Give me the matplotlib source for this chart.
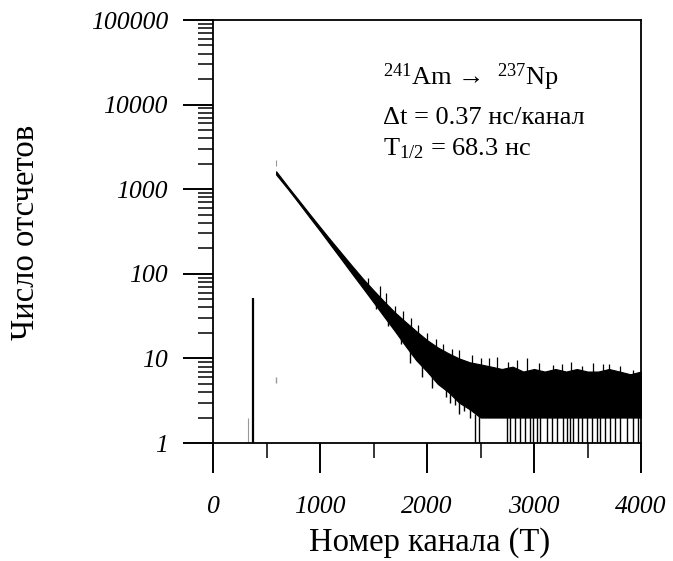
import matplotlib
matplotlib.use("Agg")
import matplotlib.pyplot as plt
import numpy as np

plt.rcParams["font.family"] = ["Liberation Serif", "DejaVu Serif"]
plt.rcParams["mathtext.fontset"] = "custom"
plt.rcParams["mathtext.rm"] = "Liberation Serif"
plt.rcParams["mathtext.it"] = "Liberation Serif:italic"

# ── данные ────────────────────────────────────────────────
# огибающая спектра (канал, верх / низ сплошной полосы)
chan = [590, 700, 800, 900, 1000, 1100, 1200, 1300, 1400, 1500, 1600,
        1700, 1800, 1900, 2000, 2100, 2200, 2300, 2400, 2500, 2600, 2700,
        2800, 2900, 3000, 3100, 3200, 3300, 3400, 3500, 3600, 3700, 3800,
        3900, 4000]
upper = [1630, 1075, 745, 515, 358, 250, 176, 124, 88, 64, 47,
         35, 27, 21, 16.5, 13.5, 11.5, 10, 9, 8.5, 8, 7.5,
         8, 7, 7.5, 7, 7.5, 7, 7.5, 7, 7, 7.5, 7,
         6.5, 7]
lower = [1490, 1005, 690, 470, 322, 218, 148, 100, 68, 46, 31,
         21, 14, 9.5, 7, 5, 4, 3, 2.5, 2, 2, 2,
         2, 2, 2, 2, 2, 2, 2, 2, 2, 2, 2,
         2, 2]

# выбросы вниз до 1 отсчёта
drop_chan = [2449, 2489, 2745, 2776, 2822, 2869, 2916, 2963, 2993, 3025,
             3056, 3119, 3165, 3212, 3274, 3305, 3336, 3367, 3414, 3445,
             3492, 3539, 3586, 3617, 3664, 3710, 3757, 3804, 3866, 3928,
             3975]
# выбросы вниз в области спада (канал, значение)
low_chan = [1520, 1640, 1760, 1841, 1950, 2050, 2121, 2180, 2215, 2260,
            2300, 2350, 2400]
low_val = [38, 24, 15, 8.8, 6, 4.5, 5, 3.5, 3.0, 2.8, 2.2, 2.4, 2]
# выбросы вверх (канал, значение)
high_chan = [1450, 1560, 1620, 1700, 1780, 1850, 1920, 2000, 2080, 2150,
             2230, 2300, 2420, 2500, 2580, 2651, 2760, 2838, 2932, 3050,
             3178, 3260, 3350, 3450, 3554, 3640, 3700, 3800, 3925]
high_val = [90, 72, 60, 42, 36, 30, 25, 20, 17, 15,
            13, 12.5, 11, 10, 10, 10.5, 9, 9.6, 10, 8.8,
            8.4, 8.6, 9, 8.2, 8.8, 8.5, 8.5, 8.2, 7.3]

# одиночные импульсы слева
peak_chan = [374]
peak_val = [52]
faint_chan = [330, 590]
faint_lo = [1, 1900]
faint_hi = [2, 2200]

xticks = [0, 1000, 2000, 3000, 4000]
xtick_labels = ["0", "1000", "2000", "3000", "4000"]
yticks = [1, 10, 100, 1000, 10000, 100000]
ytick_labels = ["1", "10", "100", "1000", "10000", "100000"]

fig = plt.figure(figsize=(6.73, 5.61), dpi=100)
ax = fig.add_axes([0.3165, 0.2103, 0.636, 0.754])

# сплошная полоса и отдельные выбросы
log_lo = np.log10(lower)
log_up = np.log10(upper)
ax.fill_between(chan, lower, upper, color="black", lw=0.8)
ax.vlines(drop_chan, 1, 2.2, color="black", lw=1.0)
low_base = 10 ** np.interp(low_chan, chan, log_lo) * 1.05
ax.vlines(low_chan, low_val, low_base, color="black", lw=1.0)
high_base = 10 ** np.interp(high_chan, chan, log_up) * 0.95
ax.vlines(high_chan, high_base, high_val, color="black", lw=0.9)
ax.vlines(peak_chan, 1, peak_val, color="black", lw=1.6)
ax.vlines(faint_chan, faint_lo, faint_hi, color="0.6", lw=0.8)
ax.plot([590], [5.5], marker="|", color="0.6", ms=4)

ax.set_yscale("log")
ax.set_xlim(0, 4000)
ax.set_ylim(1, 100000)

ax.set_xticks(xticks, labels=xtick_labels)
ax.set_xticks(np.arange(500, 4000, 1000), minor=True)
ax.set_yticks(yticks, labels=ytick_labels)
ax.yaxis.set_minor_formatter(matplotlib.ticker.NullFormatter())

for lab in ax.get_xticklabels() + ax.get_yticklabels():
    lab.set_fontstyle("italic")
    lab.set_fontsize(18.5)

ax.tick_params(axis="both", which="major", direction="out", length=21.5, width=1.4)
ax.tick_params(axis="both", which="minor", direction="out", length=10.5, width=1.1)
ax.tick_params(axis="x", which="major", pad=17)
ax.tick_params(axis="y", which="major", pad=11)
for sp in ax.spines.values():
    sp.set_linewidth(1.3)

fig.text(430 / 673, (561 - 551) / 561, "Номер канала (Т)", fontsize=23.5,
         ha="center", va="baseline")
fig.text(26 / 673, (561 - 232) / 561, "Число отсчетов", fontsize=23.5,
         rotation=90, ha="center", va="center")

tx = 0.397
ax.text(tx, 0.846, r"$^{241}$Am →  $^{237}$Np", transform=ax.transAxes,
        fontsize=19, va="baseline")
ax.text(tx, 0.754, "Δt = 0.37 нс/канал", transform=ax.transAxes,
        fontsize=19, va="baseline")
ax.text(tx, 0.681, r"T$_{1/2}$ = 68.3 нс", transform=ax.transAxes,
        fontsize=19, va="baseline")

fig.savefig("out.png", dpi=100)
